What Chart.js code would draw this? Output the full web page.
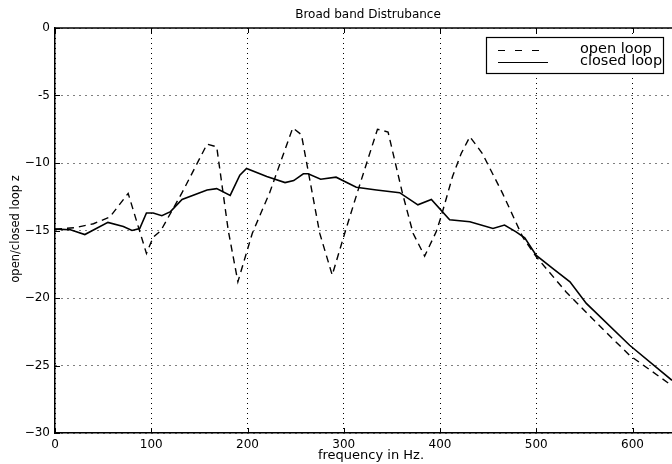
<!DOCTYPE html>
<html>

<head>
  <meta charset="UTF-8">
  <script src="https://cdn.jsdelivr.net/npm/chart.js"></script>
  <title>Broad band Distrubance</title>
  <style>
    body { margin: 0; background: #fff; }
    canvas { display: block; }
  </style>
</head>

<body>
  <canvas id="myChart" width="672" height="464"></canvas>
  <script>
    // open loop response (dashed)
    var openFreq = [0, 20, 40, 57, 76, 95, 102, 110, 132, 158, 168, 180, 190, 205, 223, 247, 256, 275, 288, 301,
      316, 335, 346, 361, 372, 384, 396, 401, 413, 422, 431, 444, 465, 486, 500, 531, 562, 597, 641];
    var openMag = [-14.9, -14.8, -14.5, -14.0, -12.25, -16.7, -15.5, -15.0, -12.2, -8.6, -8.8, -15.0, -18.8, -15.2, -12.2, -7.4, -7.9, -15.2, -18.3, -15.2,
      -11.75, -7.5, -7.7, -12.25, -15.2, -16.9, -15.1, -14.0, -11.0, -9.3, -8.05, -9.3, -12.25, -15.5, -16.95, -19.55, -21.8, -24.25, -26.5];

    // closed loop response (solid)
    var closedFreq = [0, 16, 31, 55, 71, 80, 88, 95, 102, 111, 120, 132, 158, 168, 182, 192, 199, 220, 239, 248,
      258, 263, 276, 292, 313, 334, 358, 377, 391, 410, 431, 455, 467, 479, 488, 500, 517, 535, 552, 597, 641];
    var closedMag = [-14.9, -14.95, -15.3, -14.4, -14.7, -15.0, -14.85, -13.7, -13.7, -13.9, -13.6, -12.7, -12.0, -11.9, -12.4, -10.9, -10.4, -11.0, -11.45, -11.3,
      -10.8, -10.8, -11.2, -11.05, -11.8, -12.0, -12.2, -13.1, -12.7, -14.2, -14.35, -14.85, -14.6, -15.1, -15.55, -16.85, -17.8, -18.8, -20.4, -23.5, -26.1];

    var xTicks = [0, 100, 200, 300, 400, 500, 600];
    var yTicks = [-30, -25, -20, -15, -10, -5, 0];
    var yTickLabels = ['\u221230', '\u221225', '\u221220', '\u221215', '\u221210', '-5', '0'];

    var seriesNames = ['open loop', 'closed loop'];
    var titleText = 'Broad band Distrubance';
    var xTitle = 'frequency in Hz.';
    var yTitle = 'open/closed loop z';

    var font = 'DejaVu Sans';

    function pairs(xs, ys) {
      return xs.map(function (x, i) { return { x: x, y: ys[i] }; });
    }

    // frame, inward ticks, legend box and texts
    var decorations = {
      id: 'decorations',
      afterDraw: function (chart) {
        var c = chart.ctx;
        var a = chart.chartArea;
        var sx = chart.scales.x;
        var sy = chart.scales.y;
        c.save();
        c.strokeStyle = '#000';
        c.lineWidth = 1.5;
        c.beginPath();
        c.moveTo(a.left, a.top);
        c.lineTo(a.right, a.top);
        c.stroke();

        c.lineWidth = 1;
        c.beginPath();
        xTicks.forEach(function (v) {
          var px = Math.round(sx.getPixelForValue(v)) + 0.5;
          c.moveTo(px, a.bottom);
          c.lineTo(px, a.bottom - 5);
          c.moveTo(px, a.top);
          c.lineTo(px, a.top + 5);
        });
        yTicks.forEach(function (v) {
          var py = Math.round(sy.getPixelForValue(v)) + 0.5;
          c.moveTo(a.left, py);
          c.lineTo(a.left + 5, py);
        });
        c.stroke();

        // legend
        var bx = 486, by = 37, bw = 177, bh = 36;
        c.fillStyle = '#fff';
        c.fillRect(bx, by, bw, bh);
        c.lineWidth = 1.2;
        c.strokeRect(bx + 0.5, by + 0.5, bw, bh);
        c.lineWidth = 1;
        c.setLineDash([7, 10]);
        c.beginPath();
        c.moveTo(498, 50.5);
        c.lineTo(545, 50.5);
        c.stroke();
        c.setLineDash([]);
        c.beginPath();
        c.moveTo(498, 62.5);
        c.lineTo(548, 62.5);
        c.stroke();

        c.fillStyle = '#000';
        c.textBaseline = 'middle';
        c.textAlign = 'left';
        c.font = '14.5px "' + font + '"';
        c.fillText(seriesNames[0], 580, 49);
        c.fillText(seriesNames[1], 580, 61);

        c.textAlign = 'center';
        c.font = '12px "' + font + '"';
        c.fillText(titleText, 368, 15);
        c.font = '13px "' + font + '"';
        c.fillText(xTitle, 371, 456);

        c.translate(16, 229);
        c.rotate(-Math.PI / 2);
        c.font = '11.5px "' + font + '"';
        c.fillText(yTitle, 0, 0);
        c.restore();
      }
    };

    var ctx = document.getElementById('myChart').getContext('2d');
    var chart = new Chart(ctx, {
      type: 'line',
      data: {
        datasets: [{
          label: seriesNames[0],
          data: pairs(openFreq, openMag),
          borderColor: '#000',
          borderWidth: 1.4,
          borderDash: [7, 5],
          pointRadius: 0,
          tension: 0,
          fill: false
        }, {
          label: seriesNames[1],
          data: pairs(closedFreq, closedMag),
          borderColor: '#000',
          borderWidth: 1.6,
          pointRadius: 0,
          tension: 0,
          fill: false
        }]
      },
      options: {
        responsive: false,
        animation: false,
        events: [],
        layout: { padding: { top: 28, left: 0, right: 0, bottom: 0 } },
        plugins: {
          legend: { display: false },
          tooltip: { enabled: false }
        },
        scales: {
          x: {
            type: 'linear',
            min: 0,
            max: 641,
            afterFit: function (s) { s.height = 31; },
            afterBuildTicks: function (s) { s.ticks = xTicks.map(function (v) { return { value: v }; }); },
            ticks: {
              color: '#000',
              padding: 5,
              maxRotation: 0,
              font: { family: font, size: 12 }
            },
            grid: { color: '#000', lineWidth: 1, drawTicks: false },
            border: { display: true, color: '#000', width: 1.5, dash: [1, 4] }
          },
          y: {
            min: -30,
            max: 0,
            afterFit: function (s) { s.width = 55; },
            afterBuildTicks: function (s) { s.ticks = yTicks.map(function (v) { return { value: v }; }); },
            ticks: {
              color: '#000',
              padding: 5,
              font: { family: font, size: 12 },
              callback: function (v) { return yTickLabels[yTicks.indexOf(v)]; }
            },
            grid: { color: '#000', lineWidth: 1, drawTicks: false },
            border: { display: true, color: '#000', width: 1.5, dash: [1, 5] }
          }
        }
      },
      plugins: [decorations]
    });
  </script>
</body>

</html>
